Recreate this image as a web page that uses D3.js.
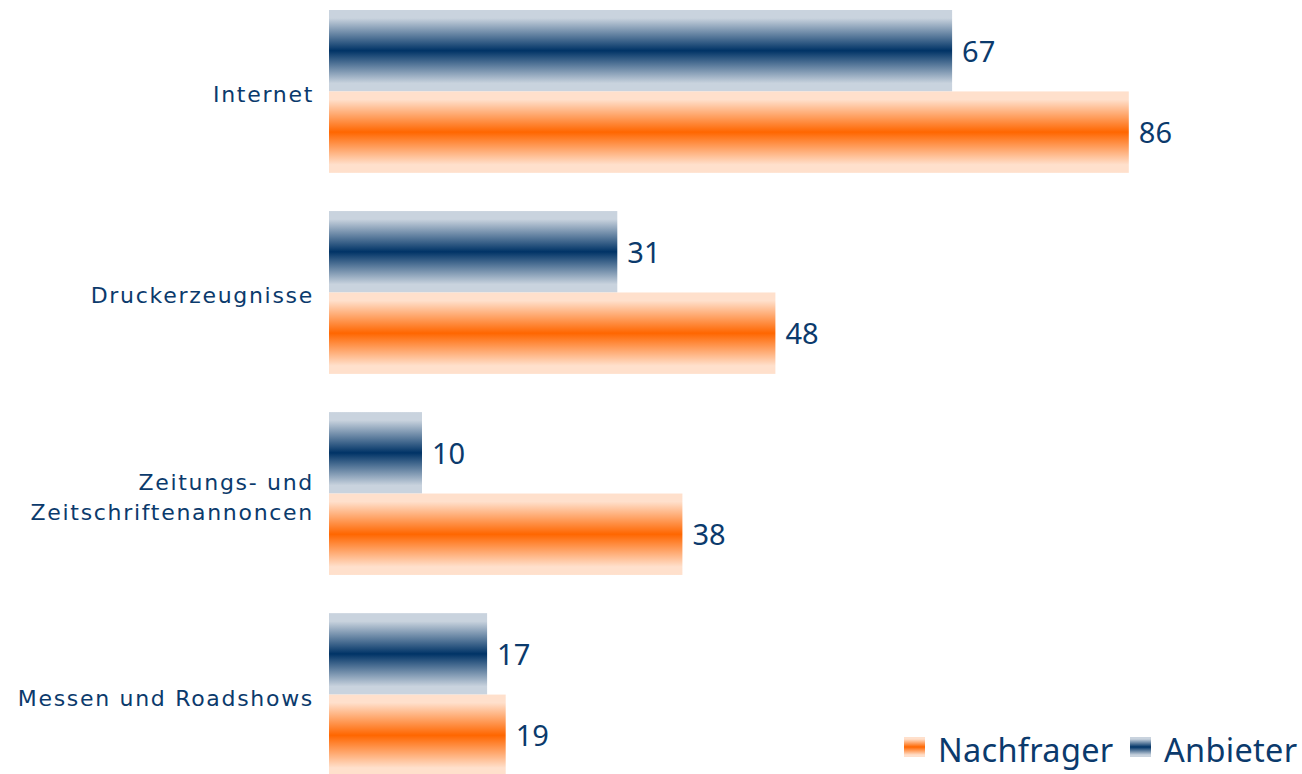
<!DOCTYPE html>
<html lang="de">
<head>
  <meta charset="UTF-8">
  <title>Anbieter / Nachfrager</title>
  <script src="https://d3js.org/d3.v7.min.js"></script>
  <style>
    html, body {
      margin: 0;
      padding: 0;
      background: #fff;
    }
    svg {
      display: block;
    }
    .cat-label {
      font-family: "DejaVu Sans", Verdana, sans-serif;
      font-size: 22px;
      letter-spacing: 1.7px;
      fill: #0b3a6c;
    }
    .value-label {
      font-family: "Noto Sans", "Open Sans", sans-serif;
      font-size: 29px;
      fill: #0b3a6c;
    }
    .legend-label {
      font-family: "Noto Sans", "Open Sans", sans-serif;
      font-size: 32.5px;
      letter-spacing: 0.3px;
      fill: #0b3a6c;
    }
  </style>
</head>
<body>
  <svg width="1302" height="774"></svg>

  <script>
    // data
    const categories = ["Internet", "Druckerzeugnisse", "Zeitungs- und Zeitschriftenannoncen", "Messen und Roadshows"];
    const categoryLines = [["Internet"], ["Druckerzeugnisse"], ["Zeitungs- und", "Zeitschriftenannoncen"], ["Messen und Roadshows"]];
    const seriesNames = ["Anbieter", "Nachfrager"];
    const anbieter = [67, 31, 10, 17];
    const nachfrager = [86, 48, 38, 19];
    const legendOrder = ["Nachfrager", "Anbieter"];

    const svg = d3.select("svg");
    const width = +svg.attr("width");
    const height = +svg.attr("height");
    const margin = { top: 10, left: 329 };

    const colors = {
      "Anbieter": { light: "#c9d3de", dark: "#003366" },
      "Nachfrager": { light: "#ffe0cc", dark: "#ff6600" }
    };

    // vertical gradients (light edges, dark middle)
    const defs = svg.append("defs");
    seriesNames.forEach(name => {
      const g = defs.append("linearGradient")
        .attr("id", "grad-" + name)
        .attr("x1", 0).attr("y1", 0)
        .attr("x2", 0).attr("y2", 1);
      [[0, "light"], [0.1, "light"], [0.5, "dark"], [0.9, "light"], [1, "light"]].forEach(([o, k]) => {
        g.append("stop").attr("offset", o).attr("stop-color", colors[name][k]);
      });
    });

    const rows = categories.map((c, i) => ({
      category: c,
      lines: categoryLines[i],
      values: [
        { series: "Anbieter", value: anbieter[i] },
        { series: "Nachfrager", value: nachfrager[i] }
      ]
    }));

    const x = d3.scaleLinear()
      .domain([0, 100])
      .range([margin.left, margin.left + 930]);

    const y = d3.scaleBand()
      .domain(categories)
      .range([margin.top, 776])
      .paddingInner(0.19)
      .paddingOuter(0);

    const ySub = d3.scaleBand()
      .domain(seriesNames)
      .range([0, y.bandwidth()]);

    const group = svg.selectAll(".row")
      .data(rows)
      .join("g")
      .attr("class", "row")
      .attr("transform", d => `translate(0,${y(d.category)})`);

    group.selectAll("rect")
      .data(d => d.values)
      .join("rect")
      .attr("x", x(0))
      .attr("y", d => ySub(d.series))
      .attr("width", d => x(d.value) - x(0))
      .attr("height", ySub.bandwidth())
      .attr("fill", d => `url(#grad-${d.series})`);

    group.selectAll(".value-label")
      .data(d => d.values)
      .join("text")
      .attr("class", "value-label")
      .attr("x", d => x(d.value) + 10)
      .attr("y", d => ySub(d.series) + ySub.bandwidth() / 2 + 11)
      .text(d => d.value);

    // category labels
    group.append("text")
      .attr("class", "cat-label")
      .attr("text-anchor", "end")
      .attr("x", margin.left - 15)
      .attr("y", d => y.bandwidth() / 2 + 11 - (d.lines.length - 1) * 15)
      .selectAll("tspan")
      .data(d => d.lines)
      .join("tspan")
      .attr("x", margin.left - 15)
      .attr("dy", (d, i) => i === 0 ? 0 : 30)
      .text(d => d);

    // legend
    const legendX = { "Nachfrager": 904, "Anbieter": 1130 };
    const legend = svg.append("g");
    legendOrder.forEach(name => {
      const g = legend.append("g").attr("transform", `translate(${legendX[name]},737)`);
      g.append("rect")
        .attr("width", 21)
        .attr("height", 20)
        .attr("fill", `url(#grad-${name})`);
      g.append("text")
        .attr("class", "legend-label")
        .attr("x", 34)
        .attr("y", 25)
        .text(name);
    });
  </script>
</body>
</html>
